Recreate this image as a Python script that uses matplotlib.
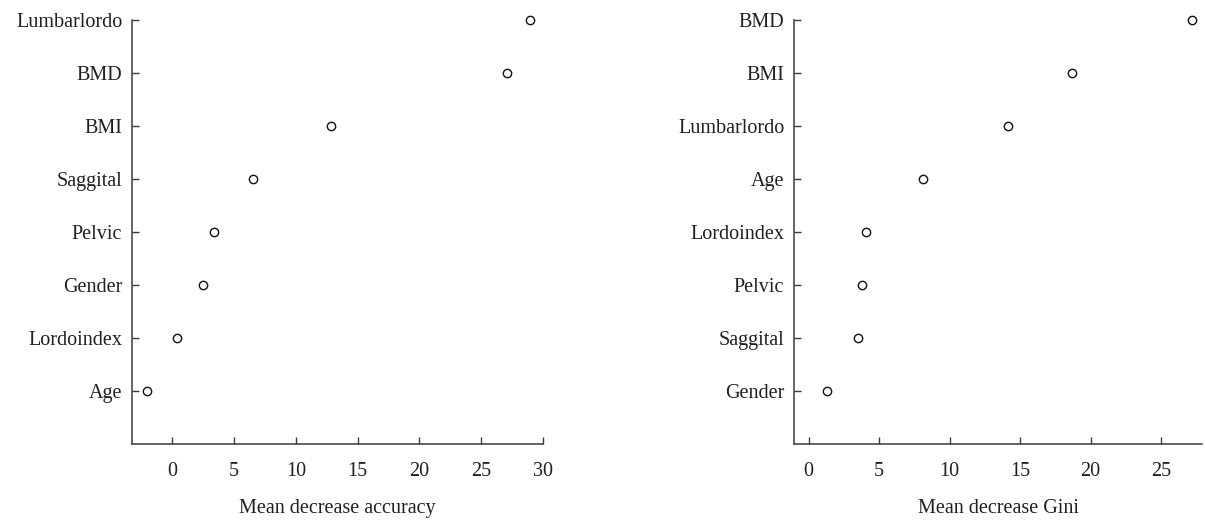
import matplotlib
matplotlib.use("Agg")
import matplotlib.pyplot as plt

plt.rcParams["font.family"] = ["Liberation Serif", "DejaVu Serif"]

# Variable importance from the random forest (bottom to top in each panel)
acc_labels = ["Age", "Lordoindex", "Gender", "Pelvic", "Saggital", "BMI", "BMD", "Lumbarlordo"]
acc_values = [-2.03, 0.35, 2.44, 3.39, 6.49, 12.8, 27.06, 28.98]
acc_ticks = [0, 5, 10, 15, 20, 25, 30]

gini_labels = ["Gender", "Saggital", "Pelvic", "Lordoindex", "Age", "Lumbarlordo", "BMI", "BMD"]
gini_values = [1.29, 3.51, 3.82, 4.10, 8.14, 14.17, 18.67, 27.18]
gini_ticks = [0, 5, 10, 15, 20, 25]

W, H = 1205, 522
fig = plt.figure(figsize=(W / 100, H / 100), dpi=100)

TEXT = "#231f20"
LINE = "#3a3a3a"
FS = 14.5


def panel(rect_px, labels, values, ticks, xlim, xbound, xlabel):
    x0, x1, ytop, ybot = rect_px
    ax = fig.add_axes([x0 / W, 1 - ybot / H, (x1 - x0) / W, (ybot - ytop) / H])
    pos = list(range(1, len(labels) + 1))
    ax.plot(values, pos, linestyle="none", marker="o", markersize=6,
            markerfacecolor="white", markeredgecolor="#111111",
            markeredgewidth=1.0, clip_on=False, zorder=3)
    ax.set_xlim(*xlim)
    ax.set_ylim(0, len(labels))
    ax.set_yticks(pos)
    ax.set_yticklabels(labels)
    ax.set_xticks(ticks)
    ax.set_xticklabels([str(t) for t in ticks])
    for side in ("top", "right"):
        ax.spines[side].set_visible(False)
    ax.spines["left"].set_color(LINE)
    ax.spines["bottom"].set_color(LINE)
    ax.spines["left"].set_linewidth(1.1)
    ax.spines["bottom"].set_linewidth(1.1)
    ax.spines["bottom"].set_bounds(*xbound)
    ax.tick_params(axis="both", direction="in", length=5, width=1.0,
                   color=LINE, labelcolor=TEXT, labelsize=FS)
    ax.tick_params(axis="y", pad=7)
    ax.tick_params(axis="x", pad=13)
    ax.set_xlabel(xlabel, fontsize=FS, color=TEXT, labelpad=13)
    ax.patch.set_alpha(0)
    return ax


panel((132, 543, 20, 444.3), acc_labels, acc_values, acc_ticks,
      (-3.27, 30.0), (-3.27, 30.0), "Mean decrease accuracy")
panel((794, 1202, 20, 444.3), gini_labels, gini_values, gini_ticks,
      (-1.03, 27.9), (-1.03, 27.9), "Mean decrease Gini")

fig.savefig("out.png", dpi=100)
